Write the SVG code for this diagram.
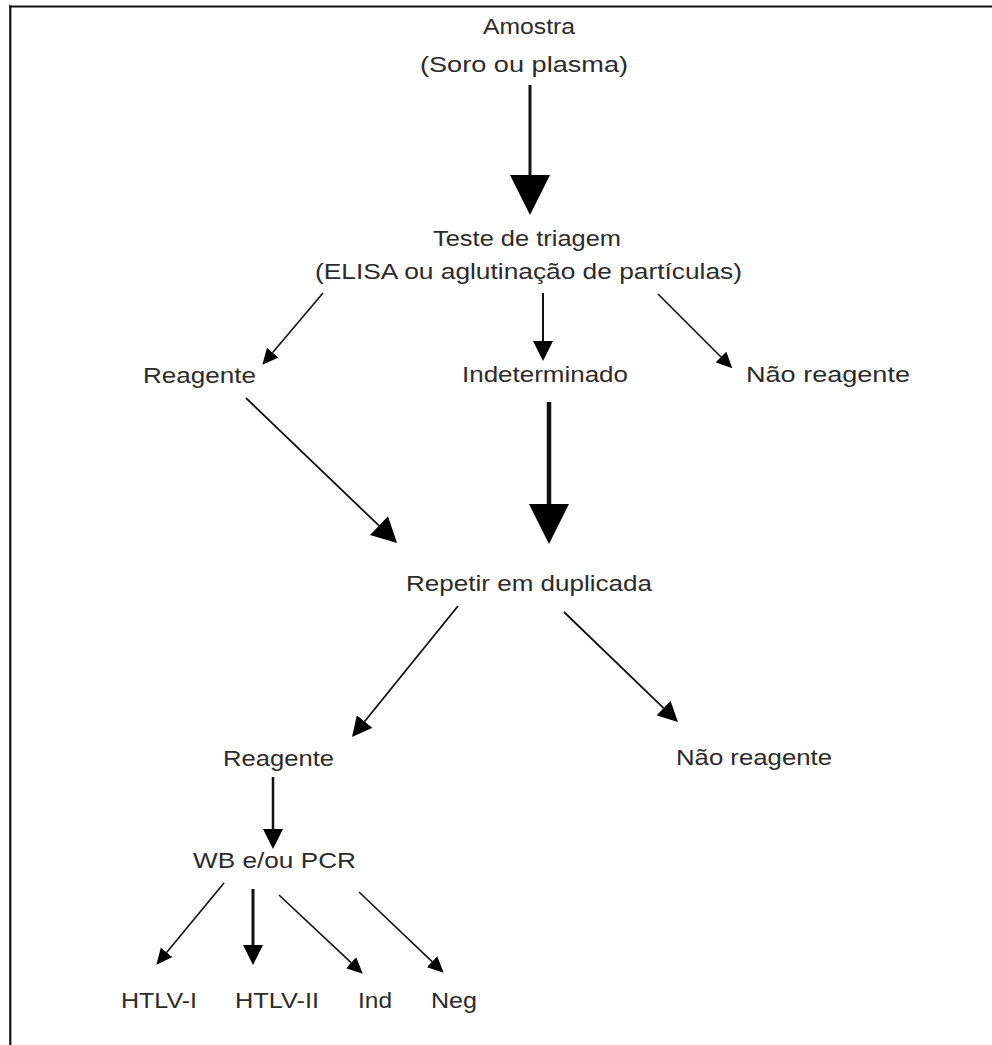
<svg xmlns="http://www.w3.org/2000/svg" width="992" height="1045" viewBox="0 0 992 1045">
<style>
.t{font-family:"Liberation Sans",Arial,sans-serif;font-size:22.5px;fill:#2b2b2b}
.c{fill:none;stroke:#111;stroke-linecap:butt}
</style>
<defs>
<marker id="hXL" markerUnits="userSpaceOnUse" markerWidth="40" markerHeight="40" refX="0" refY="19" orient="auto" viewBox="0 0 38 38"><path d="M0,0 L38,19 L0,38 Z" fill="#000"/></marker>
<marker id="hL" markerUnits="userSpaceOnUse" markerWidth="26" markerHeight="26" refX="0" refY="13" orient="auto" viewBox="0 0 25 26"><path d="M0,0 L25,13 L0,26 Z" fill="#000"/></marker>
<marker id="hM" markerUnits="userSpaceOnUse" markerWidth="20" markerHeight="20" refX="0" refY="10" orient="auto" viewBox="0 0 20 20"><path d="M0,0 L20,10 L0,20 Z" fill="#000"/></marker>
<marker id="hS" markerUnits="userSpaceOnUse" markerWidth="16" markerHeight="15" refX="0" refY="7.5" orient="auto" viewBox="0 0 16 15"><path d="M0,0 L16,7.5 L0,15 Z" fill="#000"/></marker>
</defs>
<rect width="992" height="1045" fill="#fff"/>
<g id="frame">
<line x1="9" y1="6.5" x2="992" y2="6.5" stroke="#111" stroke-width="2.2"/>
<line x1="10.3" y1="5.5" x2="10.3" y2="1045" stroke="#111" stroke-width="2.2"/>
</g>
<g id="connectors">
<line class="c" x1="530" y1="85" x2="530" y2="175" stroke-width="3" marker-end="url(#hXL)"/>
<line class="c" x1="543" y1="293" x2="543" y2="341" stroke-width="2" marker-end="url(#hM)"/>
<line class="c" x1="323" y1="293" x2="272.7" y2="352.6" stroke-width="1.6" marker-end="url(#hS)"/>
<line class="c" x1="658" y1="294" x2="721" y2="357" stroke-width="1.6" marker-end="url(#hS)"/>
<line class="c" x1="246" y1="398" x2="379" y2="525.7" stroke-width="1.8" marker-end="url(#hL)"/>
<line class="c" x1="549" y1="402" x2="549" y2="504" stroke-width="4.5" marker-end="url(#hXL)"/>
<line class="c" x1="458" y1="606" x2="364.6" y2="721.5" stroke-width="1.8" marker-end="url(#hM)"/>
<line class="c" x1="564" y1="612" x2="663.6" y2="708.1" stroke-width="1.8" marker-end="url(#hM)"/>
<line class="c" x1="273" y1="777" x2="273" y2="829" stroke-width="2.5" marker-end="url(#hM)"/>
<line class="c" x1="224" y1="883" x2="166.6" y2="952.4" stroke-width="1.6" marker-end="url(#hS)"/>
<line class="c" x1="253" y1="889" x2="253" y2="945" stroke-width="3" marker-end="url(#hM)"/>
<line class="c" x1="279" y1="895" x2="351.1" y2="962.7" stroke-width="1.6" marker-end="url(#hS)"/>
<line class="c" x1="359" y1="892" x2="432.1" y2="961.7" stroke-width="1.6" marker-end="url(#hS)"/>
</g>
<g id="amostra">
<text class="t" x="483" y="34" textLength="92" lengthAdjust="spacingAndGlyphs">Amostra</text>
<text class="t" x="420" y="72" textLength="208" lengthAdjust="spacingAndGlyphs">(Soro ou plasma)</text>
</g>
<g id="triagem">
<text class="t" x="433" y="246" textLength="188" lengthAdjust="spacingAndGlyphs">Teste de triagem</text>
<text class="t" x="315" y="279" textLength="427" lengthAdjust="spacingAndGlyphs">(ELISA ou aglutinação de partículas)</text>
</g>
<g id="reagente1"><text class="t" x="143" y="383" textLength="113" lengthAdjust="spacingAndGlyphs">Reagente</text></g>
<g id="indeterminado"><text class="t" x="462" y="382" textLength="166" lengthAdjust="spacingAndGlyphs">Indeterminado</text></g>
<g id="naoreagente1"><text class="t" x="746" y="382" textLength="164" lengthAdjust="spacingAndGlyphs">Não reagente</text></g>
<g id="repetir"><text class="t" x="406" y="591" textLength="246" lengthAdjust="spacingAndGlyphs">Repetir em duplicada</text></g>
<g id="reagente2"><text class="t" x="223" y="766" textLength="111" lengthAdjust="spacingAndGlyphs">Reagente</text></g>
<g id="naoreagente2"><text class="t" x="676" y="765" textLength="156" lengthAdjust="spacingAndGlyphs">Não reagente</text></g>
<g id="wbpcr"><text class="t" x="193" y="868" textLength="163" lengthAdjust="spacingAndGlyphs">WB e/ou PCR</text></g>
<g id="htlv1"><text class="t" x="121" y="1008" textLength="76" lengthAdjust="spacingAndGlyphs">HTLV-I</text></g>
<g id="htlv2"><text class="t" x="235" y="1008" textLength="84" lengthAdjust="spacingAndGlyphs">HTLV-II</text></g>
<g id="ind"><text class="t" x="358" y="1008" textLength="34" lengthAdjust="spacingAndGlyphs">Ind</text></g>
<g id="neg"><text class="t" x="431" y="1008" textLength="46" lengthAdjust="spacingAndGlyphs">Neg</text></g>
</svg>
